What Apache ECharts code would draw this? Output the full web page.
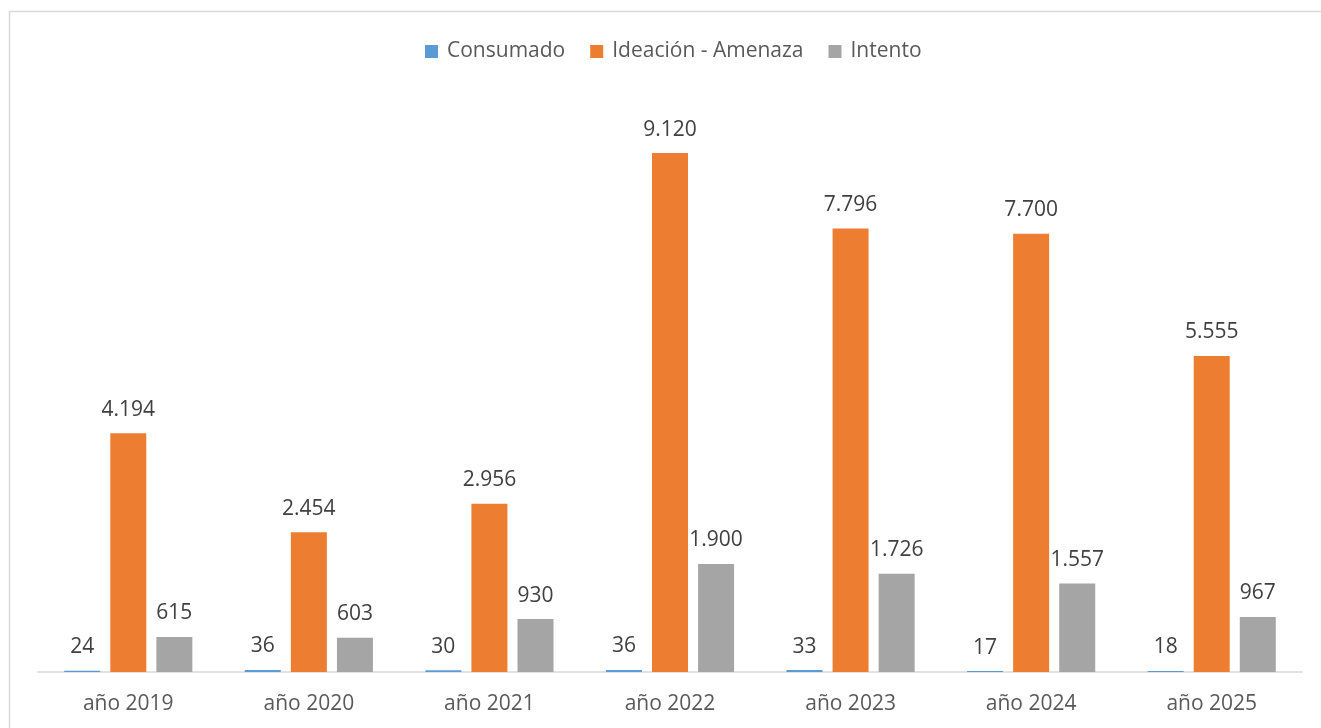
<!DOCTYPE html>
<html><head><meta charset="utf-8">
<script src="https://cdn.jsdelivr.net/npm/echarts@6/dist/echarts.min.js"></script>
<style>html,body{margin:0;padding:0;background:#fff}#c{width:1321px;height:728px}</style>
</head><body><div id="c"></div>
<script>
const categories = ['año 2019','año 2020','año 2021','año 2022','año 2023','año 2024','año 2025'];
const consumado = [24, 36, 30, 36, 33, 17, 18];
const ideacion = [4194, 2454, 2956, 9120, 7796, 7700, 5555];
const intento = [615, 603, 930, 1900, 1726, 1557, 967];
const seriesNames = ['Consumado', 'Ideación - Amenaza', 'Intento'];

const font = '"Open Sans", "Noto Sans", sans-serif';
const fmt = v => String(v).replace(/\B(?=(\d{3})+(?!\d))/g, '.');
const label = {show:true, position:'top', distance:13, color:'#404040', fontSize:21, fontFamily:font, formatter:p=>fmt(p.value)};

const chart = echarts.init(document.getElementById('c'));
chart.setOption({
  animation:false,
  graphic:[{type:'rect', shape:{x:9.5,y:11.5,width:1340,height:740}, style:{fill:null, stroke:'#d9d9d9', lineWidth:1.5}, silent:true}],
  legend:{top:36, left:420, itemWidth:13, itemHeight:13, itemGap:25, icon:'rect',
    textStyle:{color:'#595959', fontSize:21, fontFamily:font, padding:[0,0,0,4]}, data:seriesNames},
  grid:{left:38, right:19, top:103, bottom:56, containLabel:false},
  xAxis:{type:'category', data:categories, axisLine:{lineStyle:{color:'#d9d9d9', width:1.5}}, axisTick:{show:false},
    axisLabel:{color:'#595959', fontSize:21, fontFamily:font, margin:22}},
  yAxis:{type:'value', min:0, max:10000, show:false, splitLine:{show:false}},
  series:[
    {name:seriesNames[0], type:'bar', data:consumado, barWidth:36, barGap:'28%', itemStyle:{color:'#5b9bd5'}, label},
    {name:seriesNames[1], type:'bar', data:ideacion, barWidth:36, barGap:'28%', itemStyle:{color:'#ed7d31'}, label},
    {name:seriesNames[2], type:'bar', data:intento, barWidth:36, barGap:'28%', itemStyle:{color:'#a5a5a5'}, label}
  ]
});
</script></body></html>
